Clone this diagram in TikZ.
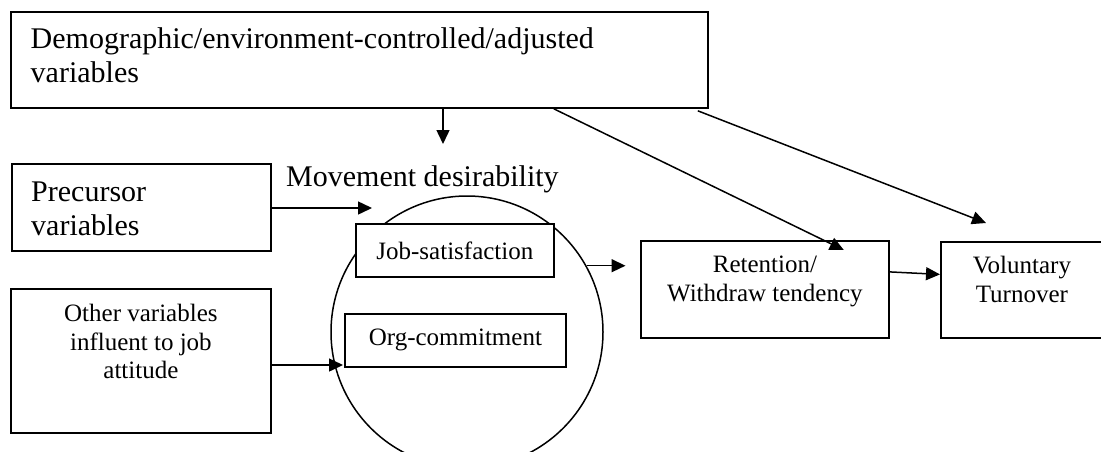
\documentclass[tikz,border=0pt]{standalone}
\usepackage{fontspec}
\setmainfont{Liberation Serif}
\usetikzlibrary{arrows.meta}
\usetikzlibrary{positioning}
\usetikzlibrary{calc}

\tikzset{
  box/.style={draw, line width=1.8pt, fill=white, inner sep=0pt, anchor=north west},
  txt/.style={inner sep=0pt},
  bigfont/.style={font=\fontsize{30}{34}\selectfont},
  smallfont/.style={font=\fontsize{25}{28.5}\selectfont},
  arr/.style={line width=1.5pt, -{Triangle[length=14pt, width=13pt]}}
}

\begin{document}
\begin{tikzpicture}[x=1pt, y=-1pt]
  \clip (0,0) rectangle (1101,451);
  \fill[white] (0,0) rectangle (1101,451);

  % movement desirability
  \node[draw, circle, line width=1.5pt, minimum size=272pt, inner sep=0pt] (circ) at (467,332) {};
  \node[txt, bigfont, anchor=base west] (circ-t) at (286,186) {Movement desirability};
  \node[box, smallfont, minimum width=198pt, minimum height=53pt] (job) at (355,223) {Job-satisfaction};
  \node[box, smallfont, minimum width=221pt, minimum height=53pt] (org) at (344,313) {Org-commitment};

  % left column
  \node[box, minimum width=697pt, minimum height=96pt] (demo) at (10,11) {};
  \node[txt, bigfont, align=left, below right=16.5pt and 20.5pt of demo.north west] (demo-t)
    {Demographic/environment-controlled/adjusted\\variables};

  \node[box, minimum width=259pt, minimum height=87pt] (prec) at (11,163) {};
  \node[txt, bigfont, align=left, below right=19pt and 20pt of prec.north west] (prec-t)
    {Precursor\\variables};

  \node[box, minimum width=260pt, minimum height=144pt] (oth) at (10,288) {};
  \node[txt, smallfont, align=center, below=16pt of oth.north] (oth-t)
    {Other variables\\influent to job\\attitude};

  % right column
  \node[box, minimum width=248pt, minimum height=97pt] (ret) at (640,240) {};
  \node[txt, smallfont, align=center, below=16pt of ret.north] (ret-t)
    {Retention/\\Withdraw tendency};

  \node[box, minimum width=162pt, minimum height=96pt] (vol) at (940,241) {};
  \node[txt, smallfont, align=center, below=15pt of vol.north] (vol-t)
    {Voluntary\\Turnover};

  % arrows
  \coordinate (demo-dn) at (443,144);
  \coordinate (prec-in) at (372,208);
  \coordinate (oth-in) at (343,365);

  \draw[arr] (demo.south west -| demo-dn) -- (demo-dn);
  \draw[arr] (prec.east |- prec-in) -- (prec-in);
  \draw[arr] (oth.east |- oth-in) -- (oth-in);
  \draw[arr] (circ.29) -- ($(ret.west |- circ.29)+(-14.5,0)$);
  \draw[arr] ([yshift=17.5pt]ret.east) -- ([yshift=15.5pt]vol.west);
  \draw[arr] ([xshift=-155pt]demo.south east) -- ([xshift=-46pt, yshift=-10pt]ret.north east);
  \draw[arr] ([xshift=-11pt, yshift=-2pt]demo.south east) -- ([xshift=46pt, yshift=18pt]vol.north west);
\end{tikzpicture}
\end{document}
